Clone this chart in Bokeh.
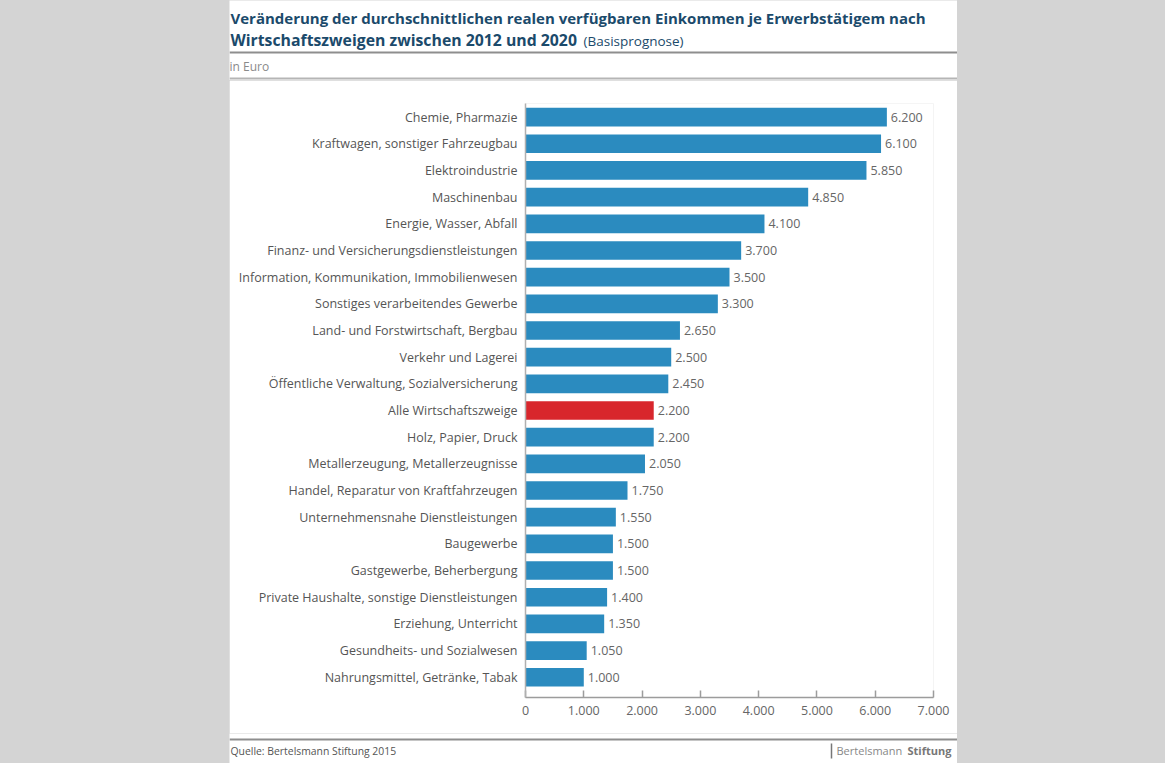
from bokeh.plotting import figure
from bokeh.models import FixedTicker, Range1d, ColumnDataSource, Spacer, Row, Column
from bokeh.core.properties import value
from bokeh.embed import file_html
from bokeh.resources import INLINE

# ---------------- data ----------------
categories = [
    "Chemie, Pharmazie",
    "Kraftwagen, sonstiger Fahrzeugbau",
    "Elektroindustrie",
    "Maschinenbau",
    "Energie, Wasser, Abfall",
    "Finanz- und Versicherungsdienstleistungen",
    "Information, Kommunikation, Immobilienwesen",
    "Sonstiges verarbeitendes Gewerbe",
    "Land- und Forstwirtschaft, Bergbau",
    "Verkehr und Lagerei",
    "Öffentliche Verwaltung, Sozialversicherung",
    "Alle Wirtschaftszweige",
    "Holz, Papier, Druck",
    "Metallerzeugung, Metallerzeugnisse",
    "Handel, Reparatur von Kraftfahrzeugen",
    "Unternehmensnahe Dienstleistungen",
    "Baugewerbe",
    "Gastgewerbe, Beherbergung",
    "Private Haushalte, sonstige Dienstleistungen",
    "Erziehung, Unterricht",
    "Gesundheits- und Sozialwesen",
    "Nahrungsmittel, Getränke, Tabak",
]
values = [6200, 6100, 5850, 4850, 4100, 3700, 3500, 3300, 2650, 2500, 2450,
          2200, 2200, 2050, 1750, 1550, 1500, 1500, 1400, 1350, 1050, 1000]
highlight = "Alle Wirtschaftszweige"
x_ticks = [0, 1000, 2000, 3000, 4000, 5000, 6000, 7000]
x_tick_labels = ["0", "1.000", "2.000", "3.000", "4.000", "5.000", "6.000", "7.000"]

title_line1 = "Veränderung der durchschnittlichen realen verfügbaren Einkommen je Erwerbstätigem nach"
title_line2_bold = "Wirtschaftszweigen zwischen 2012 und 2020"
title_line2_normal = "(Basisprognose)"
unit_text = "in Euro"
source_text = "Quelle: Bertelsmann Stiftung 2015"
brand_light = "Bertelsmann"
brand_bold = "Stiftung"

# ---------------- style ----------------
BLUE = "#2b8bbf"
RED = "#d8262c"
TITLE_COLOR = "#1b4a6b"
TEXT = "#555555"
RULE = "#8e8e8e"
GRAY_BG = "#d4d4d4"
FONT = "Open Sans"

PL = 229       # page x of white panel left
PANEL_W = 728  # panel width
PR = PL + PANEL_W
HEADER_H = 80
FOOTER_H = 30
MAIN_H = 763 - HEADER_H - FOOTER_H

n = len(categories)
ypos = [n - 1 - i for i in range(n)]
colors = [RED if c == highlight else BLUE for c in categories]
vlabels = [f"{v:,}".replace(",", ".") for v in values]

src = ColumnDataSource(dict(y=ypos, v=values, c=colors, lab=vlabels))

# ---------------- main chart ----------------
p = figure(width=PANEL_W, height=MAIN_H, output_backend="svg", toolbar_location=None,
           x_range=Range1d(0, 7000), y_range=Range1d(-0.76, n - 1 + 0.51),
           min_border_left=296, min_border_right=24, min_border_top=103 - HEADER_H,
           min_border_bottom=(763 - FOOTER_H) - 697, border_fill_color="white",
           background_fill_color="white", outline_line_color=None)
p.frame_align = False
p.grid.visible = False

p.hbar(y="y", right="v", left=0, height=0.7, color="c", source=src, line_color=None)
p.text(x="v", y="y", text="lab", source=src, x_offset=4, text_baseline="middle",
       text_align="left", text_font=value(FONT), text_font_size="12.5px",
       text_color="#666666")

xa = p.xaxis[0]
xa.ticker = FixedTicker(ticks=x_ticks)
xa.major_label_overrides = {t: l for t, l in zip(x_ticks, x_tick_labels)}
xa.major_tick_in = 7
xa.major_tick_out = 0
xa.minor_tick_line_color = None
xa.axis_line_color = "#9c9c9c"
xa.axis_line_width = 1.5
xa.major_tick_line_color = "#9c9c9c"
xa.major_tick_line_width = 1.5
xa.major_label_text_font = FONT
xa.major_label_text_font_size = "12.5px"
xa.major_label_text_color = "#666666"
xa.major_label_standoff = 8

ya = p.yaxis[0]
ya.ticker = FixedTicker(ticks=ypos)
ya.major_label_overrides = {y: c for y, c in zip(ypos, categories)}
ya.major_tick_in = 0
ya.major_tick_out = 0
ya.minor_tick_line_color = None
ya.axis_line_color = "#b0b0b0"
ya.axis_line_width = 1.5
ya.major_label_text_font = FONT
ya.major_label_text_font_size = "12.5px"
ya.major_label_text_color = TEXT
ya.major_label_standoff = 8


# ---------------- header / footer as full-frame figures (page pixel coords) ----------------
def strip(height, top):
    f = figure(width=PANEL_W, height=height, output_backend="svg", toolbar_location=None,
               x_range=Range1d(PL, PR), y_range=Range1d(top + height, top),
               x_axis_location=None, y_axis_location=None,
               min_border=0, border_fill_color="white", background_fill_color="white",
               outline_line_color=None)
    f.frame_align = False
    f.grid.visible = False
    return f


def txt(f, s, x, y, size, color, style="normal", align="left"):
    f.text(x=[x], y=[y], text=[s], text_font=value(FONT), text_font_size=size,
           text_color=color, text_font_style=style, text_align=align,
           text_baseline="middle")


h = strip(HEADER_H, 0)
txt(h, title_line1, 230, 17, "15px", TITLE_COLOR, "bold")
txt(h, title_line2_bold, 230, 39, "15.8px", TITLE_COLOR, "bold")
txt(h, title_line2_normal, 583, 40, "13.5px", TITLE_COLOR)
h.segment(x0=[PL], x1=[PR], y0=[52], y1=[52], line_color=RULE, line_width=2)
txt(h, unit_text, 229, 66, "12px", "#8a8a8a")
h.segment(x0=[PL], x1=[PR], y0=[78], y1=[78], line_color="#b5b5b5", line_width=2)

ft = strip(FOOTER_H, 763 - FOOTER_H)
ft.segment(x0=[PL], x1=[PR], y0=[739], y1=[739], line_color=RULE, line_width=2)
txt(ft, source_text, 230, 750, "10.4px", TEXT)
ft.segment(x0=[831], x1=[831], y0=[743], y1=[758], line_color="#777777", line_width=1.5)
txt(ft, brand_light, 836, 750, "11px", "#888888")
txt(ft, brand_bold, 907, 750, "11px", "#777777", "bold")

panel = Column(h, p, ft, spacing=0)
layout = Row(Spacer(width=PL, height=763), panel, Spacer(width=1165 - PR, height=763),
             styles={"background-color": GRAY_BG}, spacing=0)

open("out.html", "w").write(file_html(layout, INLINE))
